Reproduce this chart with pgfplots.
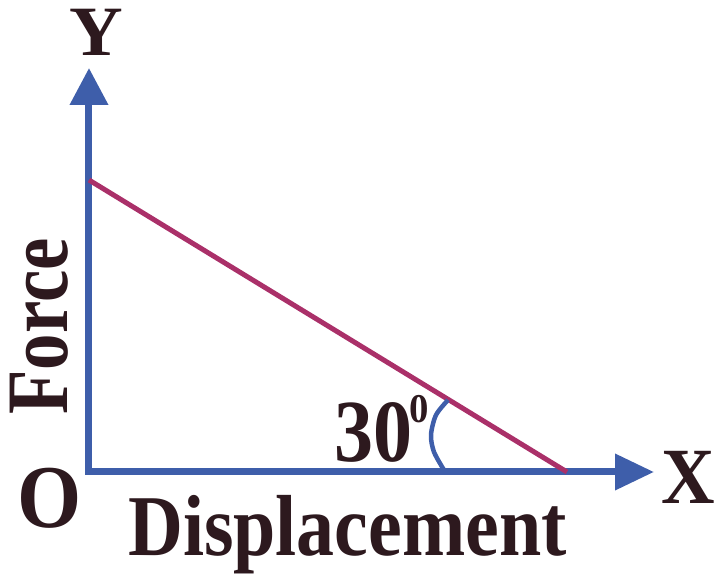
\documentclass[border=0pt]{standalone}
\usepackage{graphicx}
\usepackage{fontspec}
\setmainfont{Liberation Serif}
\usepackage{pgfplots}
\pgfplotsset{compat=1.18}
\usetikzlibrary{arrows.meta}
\definecolor{axblue}{RGB}{62,94,170}
\definecolor{lnmag}{RGB}{170,48,105}
\definecolor{txt}{RGB}{45,25,30}
\newcommand{\T}[4]{\scalebox{#2}[#3]{\fontsize{#1}{#1}\selectfont\bfseries #4}}
\begin{document}
\begin{tikzpicture}
\begin{axis}[x=1bp,y=1bp,xmin=0,xmax=565,ymin=0,ymax=404,
  enlargelimits=false,axis lines=left,ticks=none,clip=false,
  axis line style={line width=7bp,color=axblue,line cap=rect},
  x axis line style={-{Triangle[length=39bp,width=35bp]}},
  y axis line style={-{Triangle[length=37bp,width=37bp]}}]
\addplot[lnmag,line width=5bp] coordinates {(0,292) (478,0)};
\addplot[axblue,line width=4.5bp,smooth] coordinates {(359,72) (347,57) (342,37) (345,20) (355,2)};
\coordinate (bl) at (axis cs:-89,-102);
\coordinate (tr) at (axis cs:626,472);
\node[txt,inner sep=0] at (axis cs:7,440) {\T{71}{1.05}{1}{Y}};
\node[txt,inner sep=0] at (axis cs:-39,-26) {\T{90}{0.92}{1}{O}};
\node[txt,inner sep=0] at (axis cs:599,-5) {\T{80}{0.93}{1}{X}};
\node[txt,inner sep=0,anchor=base west] at (axis cs:39,-83) {\T{87}{0.876}{1}{Displacement}};
\node[txt,inner sep=0,anchor=base west,rotate=90] at (axis cs:-21,57) {\T{88}{0.83}{1}{Force}};
\node[txt,inner sep=0,anchor=base west] at (axis cs:245,10) {\T{89}{0.88}{1}{30}};
\node[txt,inner sep=0,anchor=base west] at (axis cs:320,49) {\T{41}{0.95}{1}{0}};
\end{axis}
\pgfresetboundingbox
\path (bl) rectangle (tr);
\end{tikzpicture}
\end{document}
